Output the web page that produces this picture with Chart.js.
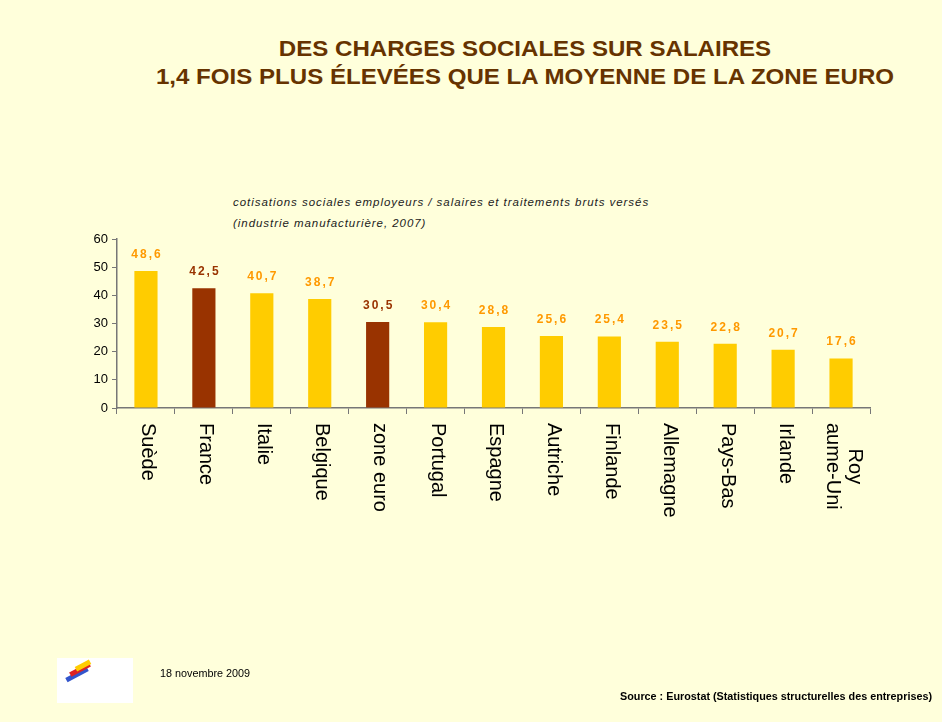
<!DOCTYPE html>
<html lang="fr">
<head>
<meta charset="utf-8">
<title>Charges sociales sur salaires</title>
<script src="https://cdn.jsdelivr.net/npm/chart.js@4.4.1/dist/chart.umd.min.js"></script>
<style>
  html, body { margin: 0; padding: 0; }
  body {
    width: 942px; height: 722px; overflow: hidden; position: relative;
    background: #ffffdb; font-family: "Liberation Sans", Arial, sans-serif;
  }
  #chart { position: absolute; left: 0; top: 0; }
  .title {
    position: absolute; left: 0; width: 1050px; text-align: center; top: 35px;
    color: #663300; font-weight: bold; font-size: 21.5px; line-height: 28px;
    transform: scaleX(1.12); transform-origin: 525px 0;
  }
  .subtitle {
    position: absolute; left: 233px; top: 192px; font-style: italic;
    font-size: 11.5px; line-height: 21px; color: #222; letter-spacing: 0.95px;
  }
  .date { position: absolute; left: 160px; top: 667px; font-size: 10.8px; color: #000; }
  .source { position: absolute; right: 10px; top: 690px; font-size: 10.8px; font-weight: bold; color: #000; }
  .logo { position: absolute; left: 57px; top: 658px; width: 76px; height: 45px; background: #fff; }
  .logo i { position: absolute; display: block; height: 5px; transform: rotate(-28deg); }
</style>
</head>
<body>
<div class="title">DES CHARGES SOCIALES SUR SALAIRES<br>1,4 FOIS PLUS ÉLEVÉES QUE LA MOYENNE DE LA ZONE EURO</div>
<div class="subtitle">cotisations sociales employeurs / salaires et traitements bruts versés<br>(industrie manufacturière, 2007)</div>
<canvas id="chart" width="942" height="722"></canvas>
<div class="logo">
  <i style="left:8px;top:14px;width:24px;background:#3355cc"></i>
  <i style="left:12px;top:9px;width:22px;background:#dd2222"></i>
  <i style="left:18px;top:5px;width:16px;background:#ffcc00"></i>
</div>
<div class="date">18 novembre 2009</div>
<div class="source">Source : Eurostat (Statistiques structurelles des entreprises)</div>

<script>
// ── Data ──────────────────────────────────────────────────────────────────
const countries = ['Suède', 'France', 'Italie', 'Belgique', 'zone euro', 'Portugal', 'Espagne',
                   'Autriche', 'Finlande', 'Allemagne', 'Pays-Bas', 'Irlande', ['Roy', 'aume-Uni']];
const rates     = [48.6, 42.5, 40.7, 38.7, 30.5, 30.4, 28.8, 25.6, 25.4, 23.5, 22.8, 20.7, 17.6];
const yTicks    = [0, 10, 20, 30, 40, 50, 60];

// France and the euro-zone average are highlighted in brown
const highlighted = ['France', 'zone euro'];

const YELLOW = '#ffcc00', BROWN = '#993300', ORANGE = '#ff9900';

function isHighlighted(i) { return highlighted.includes(countries[i]); }

// ── Labels plugin: values above bars, category names rotated clockwise ──
const labelsPlugin = {
  id: 'labels',
  afterDatasetsDraw(chart) {
    const { ctx, scales: { x } } = chart;
    const meta = chart.getDatasetMeta(0);
    ctx.save();

    // values
    ctx.font = 'bold 12px "Liberation Sans", Arial, sans-serif';
    ctx.letterSpacing = '2px';
    ctx.textAlign = 'center';
    ctx.textBaseline = 'alphabetic';
    meta.data.forEach((bar, i) => {
      ctx.fillStyle = isHighlighted(i) ? BROWN : ORANGE;
      ctx.fillText(rates[i].toFixed(1).replace('.', ','), bar.x + 1, bar.y - 13);
    });

    // category names
    ctx.letterSpacing = '0px';
    ctx.font = '20px "Liberation Sans", Arial, sans-serif';
    ctx.fillStyle = '#000';
    ctx.textBaseline = 'middle';
    ctx.textAlign = 'left';
    const top = chart.chartArea.bottom + 15;
    countries.forEach((c, i) => {
      const lines = Array.isArray(c) ? c : [c];
      const px = x.getPixelForValue(i) + 2;
      const widths = lines.map(l => ctx.measureText(l).width);
      const maxW = Math.max(...widths);
      lines.forEach((l, k) => {
        ctx.save();
        // first line sits to the right once rotated
        const off = (lines.length - 1) * 11 - k * 22;
        ctx.translate(px + off, top + (maxW - widths[k]) / 2);
        ctx.rotate(Math.PI / 2);
        ctx.fillText(l, 0, 0);
        ctx.restore();
      });
    });
    ctx.restore();
  }
};

new Chart(document.getElementById('chart'), {
  type: 'bar',
  data: {
    labels: countries.map(c => Array.isArray(c) ? c.join('') : c),
    datasets: [{
      data: rates,
      backgroundColor: rates.map((_, i) => isHighlighted(i) ? BROWN : YELLOW),
      borderWidth: 0,
      barPercentage: 0.8,
      categoryPercentage: 0.5,
    }]
  },
  options: {
    responsive: false,
    animation: false,
    layout: { padding: { left: 0, right: 72, top: 239, bottom: 0 } },
    plugins: { legend: { display: false }, tooltip: { enabled: false } },
    scales: {
      x: {
        afterFit: s => { s.height = 314; },
        ticks: { display: false },
        grid: { offset: true, drawOnChartArea: false, tickLength: 6, color: '#777' },
        border: { color: '#777', width: 1.5 }
      },
      y: {
        min: yTicks[0],
        max: yTicks[yTicks.length - 1],
        afterFit: s => { s.width = 117; },
        afterBuildTicks: s => { s.ticks = yTicks.map(v => ({ value: v })); },
        ticks: { color: '#000', font: { size: 13, family: '"Liberation Sans", Arial, sans-serif' }, padding: 4 },
        grid: { drawOnChartArea: false, tickLength: 5, color: '#777' },
        border: { color: '#777', width: 1.5 }
      }
    }
  },
  plugins: [labelsPlugin]
});
</script>
</body>
</html>
